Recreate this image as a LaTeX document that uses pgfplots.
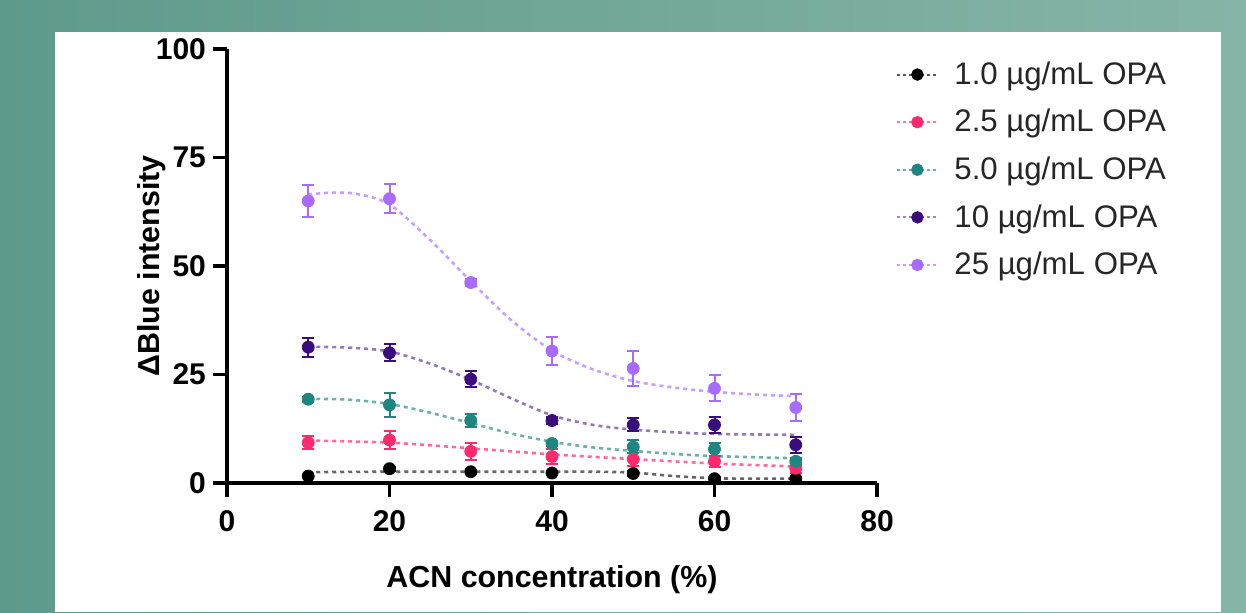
\documentclass[border=0pt]{standalone}
\usepackage{fontspec}
\setmainfont{Liberation Sans}
\usepackage{pgfplots}
\pgfplotsset{compat=1.18}

\definecolor{bgL}{HTML}{5E9A8B}
\definecolor{bgR}{HTML}{86B5A8}
\definecolor{cA}{HTML}{000000}
\definecolor{cB}{HTML}{FF2A6D}
\definecolor{cC}{HTML}{1F8580}
\definecolor{cD}{HTML}{3B0C7C}
\definecolor{cE}{HTML}{A96BFF}

% measured points: x, mean, error
\pgfplotstableread{
x y e
10 1.6 0.3
20 3.3 0.5
30 2.6 0.5
40 2.3 0.3
50 2.2 0.5
60 1.0 0.3
70 1.0 0.3
}\dA
\pgfplotstableread{
x y e
10 9.3 1.5
20 9.9 2.0
30 7.3 2.0
40 6.1 1.8
50 5.5 1.5
60 5.0 1.2
70 3.4 1.0
}\dB
\pgfplotstableread{
x y e
10 19.3 0.6
20 18.0 2.8
30 14.4 1.6
40 9.1 0.6
50 8.3 1.5
60 7.8 1.5
70 5.0 0.8
}\dC
\pgfplotstableread{
x y e
10 31.3 2.2
20 30.0 2.0
30 23.9 1.8
40 14.4 0.8
50 13.4 1.5
60 13.4 1.8
70 8.8 1.8
}\dD
\pgfplotstableread{
x y e
10 65.0 3.7
20 65.5 3.3
30 46.2 0.8
40 30.4 3.2
50 26.4 4.0
60 21.8 3.0
70 17.4 3.0
}\dE

\begin{document}
\begin{tikzpicture}
\shade[left color=bgL, right color=bgR] (-113.5pt,-64.5pt) rectangle (509.5pt,241.5pt);
\fill[white] (-86pt,-64.5pt) rectangle (497pt,225.5pt);
\begin{axis}[
  at={(0,0)}, anchor=south west,
  width=325pt, height=217pt, scale only axis,
  xmin=0, xmax=80, ymin=0, ymax=100,
  axis x line*=bottom, axis y line*=left,
  axis line style={line width=1.6pt},
  xtick={0,20,40,60,80}, ytick={0,25,50,75,100},
  tick align=outside, major tick length=7pt,
  tick style={line width=1.6pt, black},
  /pgf/number format/assume math mode=true,
  ticklabel style={font=\fontsize{15}{17}\selectfont\bfseries},
  xticklabel style={yshift=-3pt},
  label style={font=\fontsize{15.2}{18}\selectfont\bfseries},
  xlabel={ACN concentration (\%)},
  ylabel={ΔBlue intensity},
  xlabel style={at={(axis description cs:0.5,0)}, anchor=center, yshift=-48.5pt},
  ylabel style={at={(axis description cs:0,0.5)}, anchor=center, yshift=37.5pt},
  legend style={at={(1.02,0.99)}, anchor=north west, draw=none, fill=none,
    font=\fontsize{15.6}{18}\selectfont, text=black!85, row sep=7pt,
    legend cell align=left,
    /tikz/every odd column/.append style={column sep=6pt}},
  legend image code/.code={\draw[mark repeat=2,mark phase=2,#1] plot coordinates {(0pt,0pt) (10pt,0pt) (20pt,0pt)};},
  clip=false,
  error bars/error bar style={line width=1pt, solid},
  error bars/error mark options={rotate=90, mark size=3pt, line width=1pt},
]
% legend entries
\addlegendimage{black!65, line width=1pt, dash pattern=on 1.5pt off 1.5pt, mark=*, mark size=2.6pt, mark options={solid, fill=cA, draw=cA}}
\addlegendentry{1.0 µg/mL OPA}
\addlegendimage{cB!65, line width=1pt, dash pattern=on 1.5pt off 1.5pt, mark=*, mark size=2.6pt, mark options={solid, fill=cB, draw=cB}}
\addlegendentry{2.5 µg/mL OPA}
\addlegendimage{cC!65, line width=1pt, dash pattern=on 1.5pt off 1.5pt, mark=*, mark size=2.6pt, mark options={solid, fill=cC, draw=cC}}
\addlegendentry{5.0 µg/mL OPA}
\addlegendimage{cD!50, line width=1pt, dash pattern=on 1.5pt off 1.5pt, mark=*, mark size=2.6pt, mark options={solid, fill=cD, draw=cD}}
\addlegendentry{10 µg/mL OPA}
\addlegendimage{cE!65, line width=1pt, dash pattern=on 1.5pt off 1.5pt, mark=*, mark size=2.6pt, mark options={solid, fill=cE, draw=cE}}
\addlegendentry{25 µg/mL OPA}

% fitted curves
\addplot[forget plot, smooth, black!60, line width=1.3pt, dash pattern=on 2pt off 2pt] coordinates
 {(10,2.5)(20,2.6)(30,2.6)(40,2.6)(45,2.6)(50,2.4)(55,1.6)(60,1.1)(65,1.0)(70,1.0)};
\addplot[forget plot, smooth, cB!70, line width=1.3pt, dash pattern=on 2pt off 2pt] coordinates
 {(10,9.8)(20,9.3)(30,8.0)(40,6.6)(50,5.5)(60,4.5)(70,3.8)};
\addplot[forget plot, smooth, cC!65, line width=1.3pt, dash pattern=on 2pt off 2pt] coordinates
 {(10,19.4)(15,19.2)(20,18.2)(25,16.2)(30,13.8)(35,11.4)(40,9.5)(45,8.2)(50,7.4)(55,6.7)(60,6.2)(70,5.7)};
\addplot[forget plot, smooth, cD!55, line width=1.3pt, dash pattern=on 2pt off 2pt] coordinates
 {(10,31.4)(15,31.2)(20,30.3)(25,27.5)(30,23.8)(35,19.5)(40,15.6)(45,13.4)(50,12.3)(55,11.7)(60,11.3)(70,11.1)};
\addplot[forget plot, smooth, cE!65, line width=1.3pt, dash pattern=on 2pt off 2pt] coordinates
 {(10,66.5)(13,66.9)(16,66.6)(20,64.2)(25,56)(30,46.5)(35,37.5)(40,30.5)(45,26.2)(50,23.5)(55,22)(60,21)(65,20.4)(70,20.0)};

% measured points with error bars
\addplot[forget plot, only marks, mark=*, mark size=3pt, cA, error bars/.cd, y dir=both, y explicit] table[x=x, y=y, y error=e] {\dA};
\addplot[forget plot, only marks, mark=*, mark size=3pt, cB, error bars/.cd, y dir=both, y explicit] table[x=x, y=y, y error=e] {\dB};
\addplot[forget plot, only marks, mark=*, mark size=3pt, cC, error bars/.cd, y dir=both, y explicit] table[x=x, y=y, y error=e] {\dC};
\addplot[forget plot, only marks, mark=*, mark size=3pt, cD, error bars/.cd, y dir=both, y explicit] table[x=x, y=y, y error=e] {\dD};
\addplot[forget plot, only marks, mark=*, mark size=3pt, cE, error bars/.cd, y dir=both, y explicit] table[x=x, y=y, y error=e] {\dE};
\end{axis}
\end{tikzpicture}
\end{document}
